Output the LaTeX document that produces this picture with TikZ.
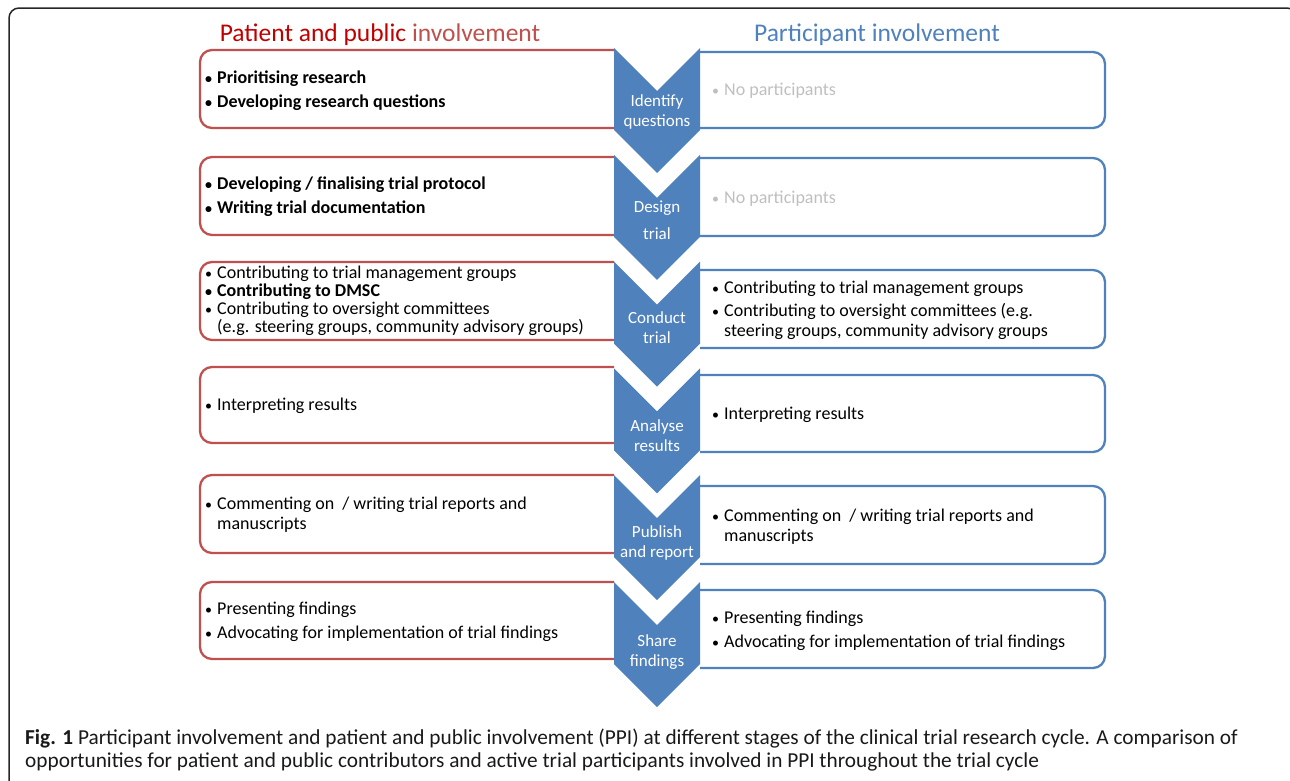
\documentclass[tikz,border=0pt]{standalone}
\usepackage{fontspec}
\setmainfont{Carlito}
\newfontfamily\capfont{Carlito}
\usepackage{tikz}
\usetikzlibrary{positioning}

\definecolor{ppired}{HTML}{C0504D}
\definecolor{ppidark}{HTML}{C00000}
\definecolor{stageblue}{HTML}{4F81BD}
\definecolor{nopart}{HTML}{BFBFBF}

\newcommand{\itm}{\makebox[12pt][l]{\fontsize{14}{14}\selectfont\raisebox{0.5pt}{\textbullet}}}
\newcommand{\cont}{\hspace*{12pt}}

\begin{document}
\begin{tikzpicture}[x=1pt, y=-1pt,
  every stage/.style={fill=stageblue},
  stage label/.style={text=white, font=\fontsize{17}{20}\selectfont, align=center, inner sep=0pt, yshift=-2pt},
  ppi box/.style={draw=ppired, line width=2.3pt, rounded corners=12pt},
  part box/.style={draw=stageblue, line width=2.3pt, rounded corners=12pt},
  item/.style={anchor=west, align=left, inner sep=0pt, yshift=-2pt, font=\fontsize{18}{20}\selectfont},
  bold item/.style={item, font=\fontsize{18}{20}\selectfont\bfseries}]

\clip (0,0) rectangle (1290,780);

% outer frame
\draw [line width=1.5pt, rounded corners=10pt, draw=black!85] (9,800) -- (9,8) -- (1297,8) -- (1297,800);

\node [font=\fontsize{25.5}{28}\selectfont] (ppi-head) at (380,35)
  {\textcolor{ppidark}{Patient and public} \textcolor{ppired}{involvement}};
\node [font=\fontsize{25.5}{28}\selectfont, text=stageblue] (part-head) at (877,35)
  {Participant involvement};

\foreach \t/\b in {50/128, 157/235, 262/340, 367/443, 475/553, 582/659}
  \draw [ppi box] (614,\t) -- (200,\t) -- (200,\b) -- (614,\b);

\foreach \t/\b in {52/128, 158/236, 270/348, 375/452, 486/564, 590/668}
  \draw [part box] (700,\t) -- (1105,\t) -- (1105,\b) -- (700,\b);

\foreach \l/\ly [count=\i] in {{Identify\\questions}/110, {Design\\[7pt]trial}/218,
    {Conduct\\trial}/326, {Analyse\\results}/434, {Publish\\and report}/541,
    {Share\\findings}/650} {
  \pgfmathsetmacro\t{48+(\i-1)*106.8}
  \fill [every stage] (614,\t) -- ++(43,43) -- ++(43,-43) -- ++(0,82)
    -- ++(-43,43) -- ++(-43,-43) -- cycle;
  \node [stage label] (stage-\i) at (657,\ly) {\l};
}

% patient and public involvement
\node [bold item] (ppi-1) at (205,89)
  {\itm Prioritising research\\[4pt]\itm Developing research questions};
\node [bold item] (ppi-2) at (205,195)
  {\itm Developing / finalising trial protocol\\[4pt]\itm Writing trial documentation};
\node [item, font=\fontsize{18}{18}\selectfont] (ppi-3) at (205,299)
  {\itm Contributing to trial management groups\\\textbf{\itm Contributing to DMSC}\\
   \itm Contributing to oversight committees\\\cont(e.g. steering groups, community advisory groups)};
\node [item] (ppi-4) at (205,404) {\itm Interpreting results};
\node [item] (ppi-5) at (205,513)
  {\itm Commenting on~ / writing trial reports and\\\cont manuscripts};
\node [item] (ppi-6) at (205,620)
  {\itm Presenting findings\\[4pt]\itm Advocating for implementation of trial findings};

% participant involvement
\node [item, text=nopart] (part-1) at (712,89) {\itm No participants};
\node [item, text=nopart] (part-2) at (712,197) {\itm No participants};
\node [item] (part-3) at (712,308.5)
  {\itm Contributing to trial management groups\\[3pt]\itm Contributing to oversight committees (e.g.\\
   \cont steering groups, community advisory groups};
\node [item] (part-4) at (712,413) {\itm Interpreting results};
\node [item] (part-5) at (712,525)
  {\itm Commenting on~ / writing trial reports and\\\cont manuscripts};
\node [item] (part-6) at (712,629)
  {\itm Presenting findings\\[4pt]\itm Advocating for implementation of trial findings};

\node [anchor=west, inner sep=0pt, align=left, text=black!90,
  font=\capfont\fontsize{21.3}{23}\selectfont] (caption) at (25,750)
  {\textbf{Fig. 1} Participant involvement and patient and public involvement (PPI) at different stages of the clinical trial research cycle. A comparison of\\
   opportunities for patient and public contributors and active trial participants involved in PPI throughout the trial cycle};

\end{tikzpicture}
\end{document}
